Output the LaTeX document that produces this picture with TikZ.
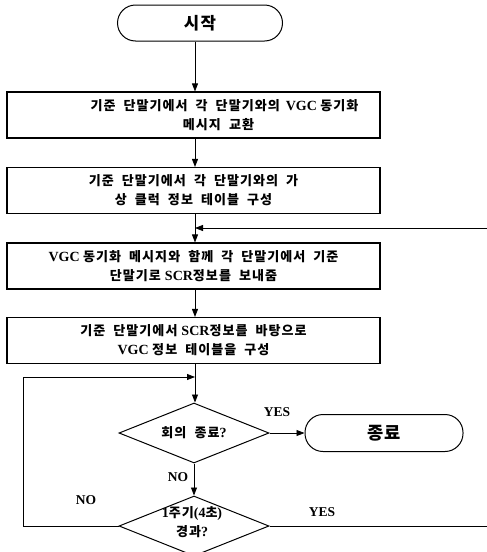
\documentclass[tikz,border=0pt]{standalone}
\usepackage{fontspec}
\setmainfont{Liberation Serif}
\newfontfamily\krfont{Noto Sans CJK KR}[Scale=0.93,LetterSpace=8,WordSpace=2]
\newcommand\K[1]{{\krfont\bfseries #1}}
\usetikzlibrary{arrows.meta,shapes.geometric}
\begin{document}
\begin{tikzpicture}[x=1pt,y=-1pt,
  box/.style={draw, line width=1.1pt, minimum width=373pt, minimum height=46pt, inner sep=0pt, align=center, font=\fontsize{14}{19}\selectfont\bfseries},
  term/.style={draw, line width=1pt, rounded corners=18pt, inner sep=0pt},
  dec/.style={draw, line width=1pt, diamond, inner sep=0pt, minimum width=150pt, minimum height=60pt},
  dtext/.style={align=center, inner sep=0pt, font=\fontsize{14}{19}\selectfont\bfseries},
  lbl/.style={font=\fontsize{13.5}{13.5}\selectfont\bfseries, inner sep=0pt},
  flow/.style={line width=0.8pt, -{Triangle[length=8pt,width=6pt]}},
  plain/.style={line width=0.8pt}]
\useasboundingbox (0,0) rectangle (487,552);
\clip (0,0) rectangle (487,552);
\coordinate (ax) at (195,0);
\node[term, minimum width=165pt, minimum height=36pt, font=\fontsize{18}{18}\selectfont] (start) at (200,23) {\K{시작}};
\node[box] (b1) at (193.5,115) {\hspace*{62pt}\K{기준 단말기에서 각 단말기와의}\hspace{6pt}VGC \K{동기화}\\ \hspace*{50pt}\K{메시지 교환}};
\node[box] (b2) at (193.5,190.5) {\K{기준 단말기에서 각 단말기와의 가}\\ \K{상 클럭 정보 테이블 구성}};
\node[box] (b3) at (193.5,266) {VGC \K{동기화 메시지와 함께 각 단말기에서 기준}\\ \K{단말기로}\hspace{4pt}SCR\K{정보를 보내줌}};
\node[box] (b4) at (193.5,340.5) {\K{기준 단말기에서}\hspace{4pt}SCR\K{정보를 바탕으로}\\ VGC \K{정보 테이블을 구성}};
\node[dec] (d1) at (194,433) {};
\node[dtext] (t1) at (d1) {\K{회의 종료}?};
\node[dec] (d2) at (194,526) {};
\node[dtext] (t2) at (192,522) {1\K{주기}(4\K{초})\\ \K{경과}?};
\node[term, minimum width=158pt, minimum height=37pt, font=\fontsize{19}{19}\selectfont] (end) at (384,433) {\K{종료}};
\node[lbl] (yes1) at (277,412) {YES};
\node[lbl] (no1) at (178,477) {NO};
\node[lbl] (no2) at (86,500) {NO};
\node[lbl] (yes2) at (322,512) {YES};
\coordinate (fbR) at (487,228);
\coordinate (lpB) at (23,526);
\coordinate (lpT) at (195,377);
\coordinate (rt) at (487,526);
\draw[flow] (start.south -| ax) -- (b1.north -| ax);
\draw[flow] (b1.south -| ax) -- (b2.north -| ax);
\draw[flow] (b2.south -| ax) -- (b3.north -| ax);
\draw[flow] (fbR) -- (fbR -| ax);
\draw[flow] (b3.south -| ax) -- (b4.north -| ax);
\draw[flow] (b4.south -| ax) -- (d1.north -| ax);
\draw[flow] (d1.east) -- (end.west);
\draw[flow] (d1.south) -- (d2.north);
\draw[flow] (d2.west) -- (lpB) |- (lpT);
\draw[plain] (d2.east) -- (rt);
\end{tikzpicture}
\end{document}
